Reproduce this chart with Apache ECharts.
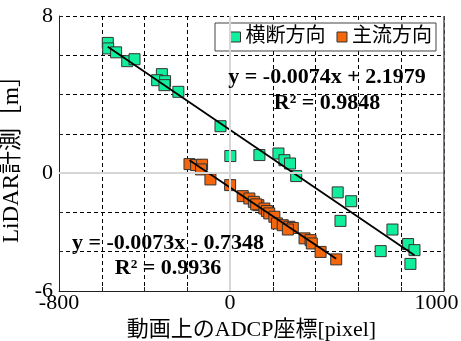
<!DOCTYPE html>
<html>
<head>
<meta charset="utf-8">
<script src="https://cdn.jsdelivr.net/npm/echarts@6/dist/echarts.min.js"></script>
<style>
  html, body { margin: 0; padding: 0; background: #fff; }
  #chart { width: 461px; height: 341px; }
</style>
</head>
<body>
<div id="chart"></div>
<script>
// 横断方向 (cross-stream) samples: ADCP pixel coordinate vs LiDAR measurement
const crossX = [-572, -570, -533, -481, -447, -319, -341, -304, -307, -242, -45,
                1, 137, 226, 254, 280, 309, 503, 566, 516, 759, 704, 832, 862, 843];
const crossY = [6.63, 6.35, 6.15, 5.70, 5.80, 5.04, 4.73, 4.68, 4.48, 4.14, 2.39,
                0.87, 0.92, 1.00, 0.66, 0.49, -0.15, -0.98, -1.43, -2.43, -2.87, -3.97, -3.61, -3.92, -4.62];

// 主流方向 (main-flow) samples
const mainX = [-190, -159, -131, -136, -92, 0, 59, 90, 111, 132, 122, 160, 172, 183,
               207, 219, 246, 277, 293, 270, 348, 376, 382, 423, 496];
const mainY = [0.46, 0.41, 0.43, 0.19, -0.32, -0.61, -1.17, -1.29, -1.46, -1.63, -1.59, -1.80, -1.93, -2.05,
               -2.22, -2.56, -2.65, -2.73, -2.79, -2.87, -3.32, -3.41, -3.58, -4.01, -4.39];

// Linear fits: [slope, intercept, R²]
const crossFit = [-0.0074, 2.1979, 0.9848];
const mainFit = [-0.0073, -0.7348, 0.9936];

const seriesNames = ['横断方向', '主流方向'];
const xTickLabels = [-800, 0, 1000];
const yTickLabels = [8, 0, -6];

const serif = "'Liberation Serif', 'Noto Sans CJK JP', serif";

function pairs(xs, ys) { return xs.map((x, i) => [x, ys[i]]); }
function fitLine(fit, xs) {
  const lo = Math.min(...xs), hi = Math.max(...xs);
  return [[lo, fit[0] * lo + fit[1]], [hi, fit[0] * hi + fit[1]]];
}
function eqText(fit) {
  const b = fit[1] < 0 ? ' - ' + Math.abs(fit[1]).toFixed(4) : ' + ' + fit[1].toFixed(4);
  return 'y = ' + fit[0].toFixed(4) + 'x' + b;
}

const chart = echarts.init(document.getElementById('chart'), null, { renderer: 'canvas' });

const gridLine = { show: true, lineStyle: { color: '#000', width: 1, type: [4, 3] } };

chart.setOption({
  animation: false,
  backgroundColor: '#fff',
  grid: { left: 59, right: 17, top: 16, bottom: 50, containLabel: false, outerBoundsMode: 'none' },
  legend: {
    data: seriesNames,
    left: 215, top: 23,
    orient: 'horizontal',
    icon: 'rect',
    itemWidth: 10, itemHeight: 10, itemGap: 11,
    padding: [4, 4, 4, 15],
    backgroundColor: '#fff',
    borderColor: '#444', borderWidth: 1, borderRadius: 0,
    textStyle: { fontFamily: serif, fontSize: 20, color: '#000' },
    itemStyle: { borderColor: '#333', borderWidth: 1 }
  },
  xAxis: {
    type: 'value', min: -800, max: 1000, interval: 200,
    name: '動画上のADCP座標[pixel]', nameLocation: 'middle', nameGap: 24,
    nameTextStyle: { fontFamily: serif, fontSize: 22, color: '#000', verticalAlign: 'top' },
    axisLine: { show: true, onZero: false, lineStyle: { color: '#222', width: 1 } },
    axisTick: { show: true, inside: true, length: 4, lineStyle: { color: '#222' } },
    splitLine: gridLine,
    axisLabel: {
      fontFamily: serif, fontSize: 22, color: '#000', margin: 1,
      formatter: v => {
        if (!xTickLabels.includes(v)) return '';
        return v === 1000 ? '{r|' + v + '}' : String(v);
      },
      rich: { r: { fontFamily: serif, fontSize: 22, color: '#000', padding: [0, 15, 0, 0] } }
    }
  },
  yAxis: {
    type: 'value', min: -6, max: 8, interval: 2,
    name: 'LiDAR計測［m］', nameLocation: 'middle', nameGap: 25, nameRotate: 90,
    nameTextStyle: { fontFamily: serif, fontSize: 23, color: '#000' },
    axisLine: { show: true, onZero: false, lineStyle: { color: '#222', width: 1 } },
    axisTick: { show: true, inside: true, length: 4, lineStyle: { color: '#222' } },
    splitLine: gridLine,
    axisLabel: {
      fontFamily: serif, fontSize: 22, color: '#000', margin: 6,
      formatter: v => yTickLabels.includes(v) ? String(v) : ''
    }
  },
  graphic: [
    { type: 'text', x: 327, y: 77, z: 10,
      style: { text: eqText(crossFit), font: 'bold 22px ' + serif, fill: '#000', align: 'center', verticalAlign: 'middle' } },
    { type: 'text', x: 327, y: 103, z: 10,
      style: { text: 'R² = ' + crossFit[2].toFixed(4), font: 'bold 22px ' + serif, fill: '#000', align: 'center', verticalAlign: 'middle' } },
    { type: 'text', x: 168, y: 243, z: 10,
      style: { text: eqText(mainFit), font: 'bold 22px ' + serif, fill: '#000', align: 'center', verticalAlign: 'middle' } },
    { type: 'text', x: 168, y: 268, z: 10,
      style: { text: 'R² = ' + mainFit[2].toFixed(4), font: 'bold 22px ' + serif, fill: '#000', align: 'center', verticalAlign: 'middle' } }
  ],
  series: [
    {
      // zero reference lines and right frame edge
      type: 'line', data: [], z: 1, silent: true,
      markLine: {
        silent: true, symbol: 'none', animation: false,
        label: { show: false },
        data: [
          { xAxis: 0, lineStyle: { color: '#d6d6d6', width: 2, type: 'solid' } },
          { yAxis: 0, lineStyle: { color: '#d6d6d6', width: 2, type: 'solid' } },
          { xAxis: 1000, lineStyle: { color: '#555', width: 1.5, type: 'solid' } }
        ]
      }
    },
    {
      name: seriesNames[0], type: 'scatter', z: 3,
      data: pairs(crossX, crossY),
      symbol: 'rect', symbolSize: 11,
      itemStyle: { color: '#12EF9C', borderColor: '#333', borderWidth: 1, opacity: 1 }
    },
    {
      name: seriesNames[1], type: 'scatter', z: 3,
      data: pairs(mainX, mainY),
      symbol: 'rect', symbolSize: 11,
      itemStyle: { color: '#F4660C', borderColor: '#333', borderWidth: 1, opacity: 1 }
    },
    {
      type: 'line', z: 4, silent: true, symbol: 'none',
      data: fitLine(crossFit, crossX),
      lineStyle: { color: '#000', width: 1.8 }
    },
    {
      type: 'line', z: 4, silent: true, symbol: 'none',
      data: fitLine(mainFit, mainX),
      lineStyle: { color: '#000', width: 1.8 }
    }
  ]
});
</script>
</body>
</html>
